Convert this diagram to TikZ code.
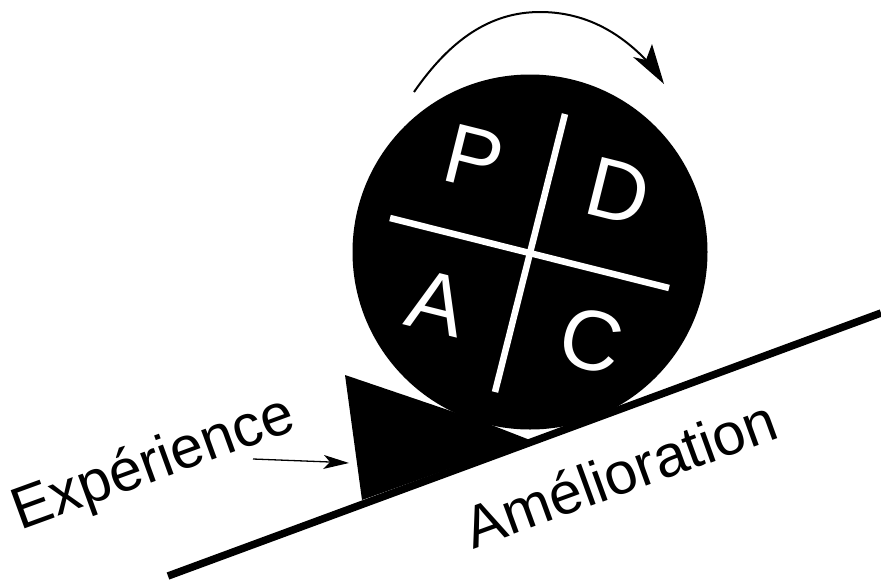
\documentclass[tikz,border=0pt]{standalone}
\usepackage{fontspec}
\setmainfont{Liberation Sans}
\tikzset{lett/.style={text=white,font=\fontsize{85}{85}\selectfont,rotate=-14,inner sep=0pt,anchor=center},
lab/.style={font=\fontsize{59}{59}\selectfont,rotate=20,inner sep=0pt,anchor=center},
cross/.style={white,line width=6.5pt},
arr/.style={black,line width=2pt},
head/.style={fill=black,draw=none}}
\begin{document}
\begin{tikzpicture}[x=1pt,y=-1pt]
\useasboundingbox (0,0) rectangle (881,579);
\fill[black] (530,252) circle (177.5);
\draw[black,line width=7.5pt] (168,576) -- (881,313);
\fill[black] (345,375) -- (362,500) -- (530,440) -- (494,426) -- (448,410) -- cycle;
\draw[cross] (565,114) -- (495,392);
\draw[cross] (390,218) -- (669,288);
\node[lett] at (474,158) {P};
\node[lett] at (618,192) {D};
\node[lett] at (437,303) {A};
\node[lett] at (591,341) {C};
\node[lab] at (154,465) {Expérience};
\node[lab] at (620,473) {Amélioration};
\coordinate (a1) at (414,92);
\coordinate (am) at (540,12);
\coordinate (an) at (646,60);
\coordinate (tip) at (664,84);
\coordinate (bt) at (652,44);
\coordinate (bl) at (633,57);
\draw[arr] (a1) .. controls (450,40) and (490,12) .. (am) .. controls (580,12) and (615,28) .. (an);
\fill[head] (tip) -- (bt) -- (an) -- (bl) -- cycle;
\coordinate (b1) at (253,459);
\coordinate (bn) at (330,462);
\coordinate (b2) at (349,463);
\coordinate (c1) at (324,455);
\coordinate (c2) at (323,469);
\draw[black,line width=1.3pt] (b1) -- (bn);
\fill[head] (b2) -- (c1) -- (bn) -- (c2) -- cycle;
\end{tikzpicture}
\end{document}
